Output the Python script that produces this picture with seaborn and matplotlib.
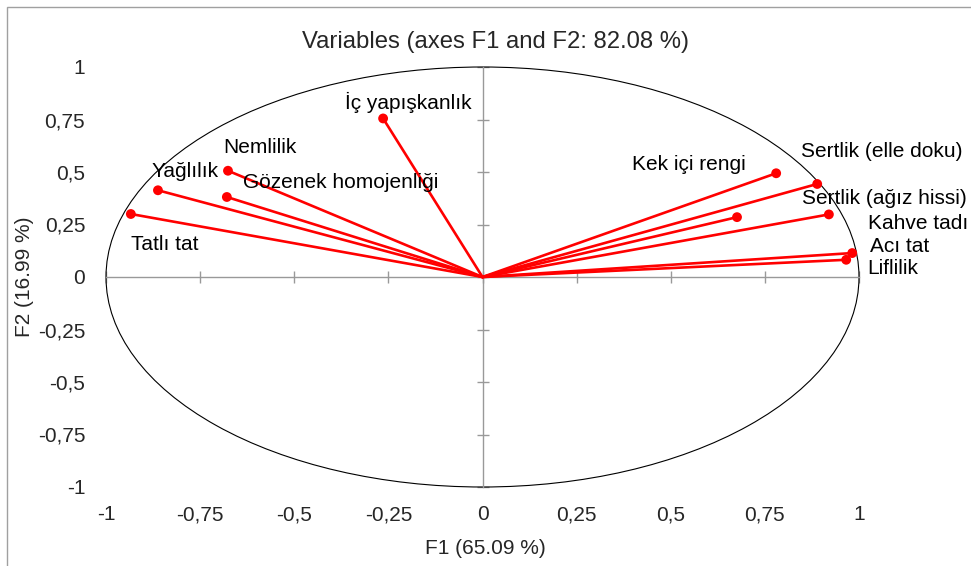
import matplotlib
matplotlib.use("Agg")
import matplotlib.pyplot as plt
import seaborn as sns
import pandas as pd
from matplotlib.patches import Ellipse, Rectangle

# ---- data ----
variables = ["Tatlı tat", "Yağlılık", "Nemlilik", "Gözenek homojenliği", "İç yapışkanlık",
             "Kek içi rengi", "Sertlik (elle doku)", "Sertlik (ağız hissi)", "Kahve tadı",
             "Acı tat", "Liflilik"]
f1 = [-0.934, -0.862, -0.676, -0.679, -0.264, 0.780, 0.889, 0.676, 0.920, 0.982, 0.966]
f2 = [0.300, 0.413, 0.506, 0.381, 0.755, 0.494, 0.443, 0.285, 0.298, 0.114, 0.082]
tick_values = [-1, -0.75, -0.5, -0.25, 0, 0.25, 0.5, 0.75, 1]
tick_labels = ["-1", "-0,75", "-0,5", "-0,25", "0", "0,25", "0,5", "0,75", "1"]
title = "Variables (axes F1 and F2: 82.08 %)"
xlabel = "F1 (65.09 %)"
ylabel = "F2 (16.99 %)"

# label placement (pixel offsets from point, ha)
label_layout = {
    "Tatlı tat": (0, 31, "left"),
    "Yağlılık": (-6, -19, "left"),
    "Nemlilik": (-5, -23, "left"),
    "Gözenek homojenliği": (16, -14, "left"),
    "İç yapışkanlık": (-38, -16, "left"),
    "Kek içi rengi": (-30, -9, "right"),
    "Sertlik (elle doku)": (-16, -32, "left"),
    "Sertlik (ağız hissi)": (65, -19, "left"),
    "Kahve tadı": (39, 9, "left"),
    "Acı tat": (18, -7, "left"),
    "Liflilik": (21, 9, "left"),
}

sns.set_style("white")
plt.rcParams["font.family"] = ["Liberation Sans", "DejaVu Sans"]

W, H = 971, 566
fig = plt.figure(figsize=(W / 100, H / 100), dpi=100)
ax = fig.add_axes([106 / W, 1 - 487 / H, 753 / W, 420 / H])
ax.set_xlim(-1, 1)
ax.set_ylim(-1, 1)

# figure border (partial, top-left)
fig.patches.append(Rectangle((7 / W, -0.1), 1.2, 1 - 7 / H + 0.1, transform=fig.transFigure,
                             fill=False, edgecolor="#a0a0a0", lw=1.0))

# vectors
rows = []
for v, x, y in zip(variables, f1, f2):
    rows.append({"var": v, "F1": 0.0, "F2": 0.0, "o": 0})
    rows.append({"var": v, "F1": x, "F2": y, "o": 1})
lines_df = pd.DataFrame(rows)
pts_df = pd.DataFrame({"var": variables, "F1": f1, "F2": f2})

ell = Ellipse((0, 0), 2, 2, fill=False, edgecolor="black", lw=0.8, clip_on=False, zorder=2)
ax.add_patch(ell)

sns.lineplot(data=lines_df, x="F1", y="F2", units="var", estimator=None, sort=False,
             color="#ff0000", lw=1.9, ax=ax, zorder=3)
sns.scatterplot(data=pts_df, x="F1", y="F2", color="#ff0000", s=50, edgecolor="none",
                ax=ax, zorder=4, clip_on=False)

for v, x, y in zip(variables, f1, f2):
    dx, dy, ha = label_layout[v]
    ax.annotate(v, (x, y), xytext=(dx * 0.72, -dy * 0.72), textcoords="offset points",
                ha=ha, va="center", fontsize=15, color="black")

# axes at zero with crossing ticks
for s in ["top", "right"]:
    ax.spines[s].set_visible(False)
ax.spines["left"].set_position(("data", 0))
ax.spines["bottom"].set_position(("data", 0))
for s in ["left", "bottom"]:
    ax.spines[s].set_color("#999999")
    ax.spines[s].set_linewidth(1.0)
ax.set_xticks(tick_values)
ax.set_yticks(tick_values)
ax.tick_params(axis="both", which="major", bottom=True, left=True, direction="inout",
               length=9, width=1.0, color="#999999", labelbottom=False, labelleft=False)
ax.set_xlabel("")
ax.set_ylabel("")

# tick labels at the edges
secx = ax.secondary_xaxis("bottom")
secx.set_xticks(tick_values, tick_labels)
secx.tick_params(length=0, pad=13, labelsize=15)
secx.spines["bottom"].set_visible(False)
secy = ax.secondary_yaxis("left")
secy.set_yticks(tick_values, tick_labels)
secy.tick_params(length=0, pad=15, labelsize=15)
secy.spines["left"].set_visible(False)

fig.text(495 / W, 1 - 42 / H, title, ha="center", va="center", fontsize=17.2)
fig.text(485 / W, 1 - 548 / H, xlabel, ha="center", va="center", fontsize=15)
fig.text(25 / W, 1 - 277 / H, ylabel, ha="center", va="center", rotation=90, fontsize=15)

fig.savefig("out.png", dpi=100)
